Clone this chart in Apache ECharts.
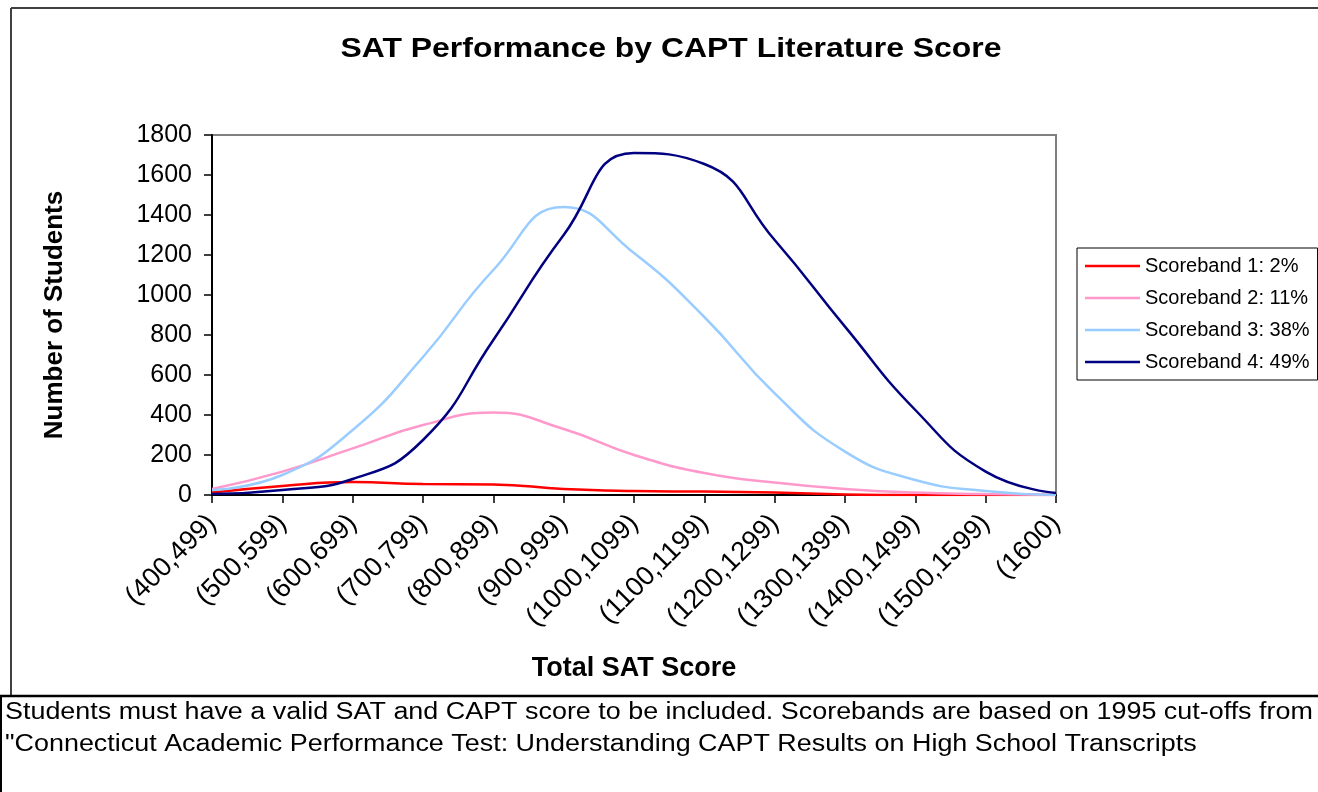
<!DOCTYPE html>
<html>
<head>
<meta charset="utf-8">
<title>SAT Performance by CAPT Literature Score</title>
<script src="https://cdn.jsdelivr.net/npm/echarts@6/dist/echarts.min.js"></script>
<style>
    html, body {margin: 0; padding: 0; background: #fff;}
    #chart {width: 1318px; height: 792px;}
</style>
</head>
<body>
<div id="chart"></div>
<script>
// SAT 总分区间
var categories = ['(400,499)', '(500,599)', '(600,699)', '(700,799)', '(800,899)', '(900,999)',
    '(1000,1099)', '(1100,1199)', '(1200,1299)', '(1300,1399)', '(1400,1499)', '(1500,1599)', '(1600)'];

// 各 scoreband 的学生人数
var band1 = [12, 45, 65, 55, 53, 30, 20, 17, 12, 3, 0, 0, 0];
var band2 = [30, 117, 233, 350, 412, 330, 200, 110, 62, 30, 12, 5, 0];
var band3 = [25, 100, 325, 690, 1125, 1440, 1210, 890, 508, 217, 75, 20, 0];
var band4 = [5, 25, 80, 275, 775, 1300, 1710, 1655, 1275, 842, 425, 117, 10];

var bandNames = ['Scoreband 1: 2%', 'Scoreband 2: 11%', 'Scoreband 3: 38%', 'Scoreband 4: 49%'];
var bandColors = ['#ff0000', '#ff99cc', '#99ccff', '#000080'];

var yTicks = {min: 0, max: 1800, interval: 200};

var titleText = 'SAT Performance by CAPT Literature Score';
var footnote = [
    'Students must have a valid SAT and CAPT score to be included. Scorebands are based on 1995 cut-offs from',
    '"Connecticut Academic Performance Test: Understanding CAPT Results on High School Transcripts'
];

var font = '"Liberation Sans", Arial, sans-serif';

function makeSeries(name, data, color) {
    return {
        name: name,
        type: 'line',
        data: data,
        smooth: 0.5,
        symbol: 'none',
        lineStyle: {color: color, width: 2.5},
        itemStyle: {color: color},
        emphasis: {disabled: true}
    };
}

var chart = echarts.init(document.getElementById('chart'));
var option = {
    animation: false,
    backgroundColor: '#fff',
    legend: {
        orient: 'vertical',
        left: 1077,
        top: 248,
        padding: [8, 8, 8, 8],
        itemWidth: 55,
        itemHeight: 2.5,
        itemGap: 12,
        icon: 'rect',
        borderColor: '#000',
        borderWidth: 1,
        data: bandNames,
        textStyle: {fontFamily: font, fontSize: 20, color: '#000', lineHeight: 20}
    },
    grid: {
        left: 212,
        top: 135,
        width: 844,
        height: 360,
        show: true,
        borderColor: '#808080',
        borderWidth: 2,
        backgroundColor: '#fff'
    },
    xAxis: {
        type: 'category',
        data: categories,
        boundaryGap: false,
        name: 'Total SAT Score',
        nameLocation: 'middle',
        nameGap: 160,
        nameTextStyle: {fontFamily: font, fontSize: 27, fontWeight: 'bold', color: '#000'},
        axisLine: {lineStyle: {color: '#000', width: 2}},
        axisTick: {alignWithLabel: true, length: 8, lineStyle: {color: '#000', width: 1.5}},
        axisLabel: {
            interval: 0,
            rotate: 45,
            margin: 24,
            fontFamily: font,
            fontSize: 27,
            color: '#000'
        },
        splitLine: {show: false}
    },
    yAxis: {
        type: 'value',
        min: yTicks.min,
        max: yTicks.max,
        interval: yTicks.interval,
        name: 'Number of Students',
        nameLocation: 'middle',
        nameGap: 144,
        nameTextStyle: {fontFamily: font, fontSize: 26, fontWeight: 'bold', color: '#000'},
        axisLine: {show: true, lineStyle: {color: '#000', width: 2}},
        axisTick: {show: true, length: 8, lineStyle: {color: '#000', width: 1.5}},
        axisLabel: {
            margin: 20,
            fontFamily: font,
            fontSize: 25,
            color: '#000',
            formatter: function (v) { return String(v); }
        },
        splitLine: {show: false}
    },
    series: [
        makeSeries(bandNames[0], band1, bandColors[0]),
        makeSeries(bandNames[1], band2, bandColors[1]),
        makeSeries(bandNames[2], band3, bandColors[2]),
        makeSeries(bandNames[3], band4, bandColors[3])
    ],
    graphic: [
        // 标题（原图文字横向偏宽，用 scaleX 拉一点）
        {type: 'text', x: 671, y: 49, scaleX: 1.14,
            style: {text: titleText, font: 'bold 28px ' + font, fill: '#000', align: 'center', verticalAlign: 'middle'}, z: 10},
        // 图表外框
        {type: 'line', shape: {x1: 11, y1: 8, x2: 1318, y2: 8}, style: {stroke: '#404040', lineWidth: 2}, z: 10},
        {type: 'line', shape: {x1: 11, y1: 8, x2: 11, y2: 696}, style: {stroke: '#404040', lineWidth: 2}, z: 10},
        // 注释框
        {type: 'line', shape: {x1: 0, y1: 696, x2: 1318, y2: 696}, style: {stroke: '#000', lineWidth: 2.5}, z: 10},
        {type: 'line', shape: {x1: 1, y1: 696, x2: 1, y2: 792}, style: {stroke: '#000', lineWidth: 2}, z: 10},
        {type: 'text', x: 5, y: 713, scaleX: 1.17,
            style: {text: footnote[0], font: '23px ' + font, fill: '#000', verticalAlign: 'middle'}, z: 10},
        {type: 'text', x: 5, y: 745, scaleX: 1.17,
            style: {text: footnote[1], font: '23px ' + font, fill: '#000', verticalAlign: 'middle'}, z: 10}
    ]
};
chart.setOption(option);
</script>
</body>
</html>
